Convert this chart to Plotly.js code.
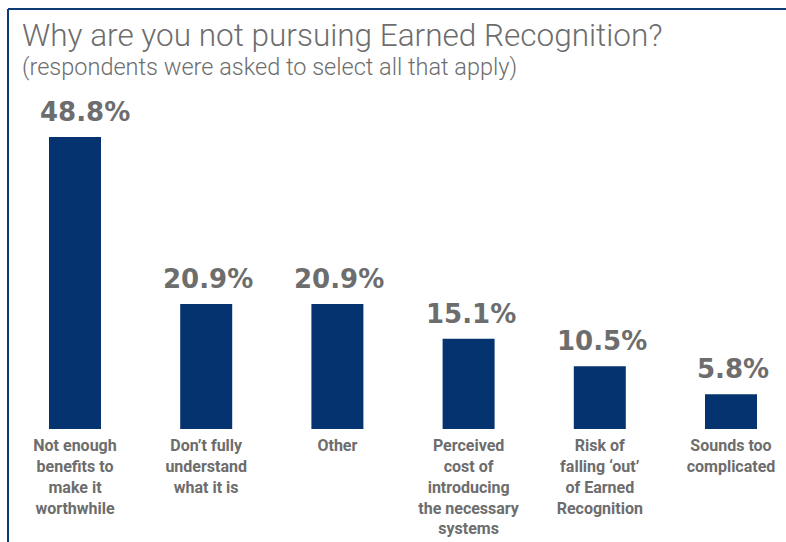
<!DOCTYPE html>
<html><head><meta charset="utf-8">
<script src="https://cdn.plot.ly/plotly-3.0.1.min.js"></script>
<style>html,body{margin:0;padding:0;background:#fff}#chart{width:786px;height:542px}</style>
</head><body><div id="chart"></div>
<script>
const categories = [
  "Not enough<br>benefits to<br>make it<br>worthwhile",
  "Don\u2019t fully<br>understand<br>what it is",
  "Other",
  "Perceived<br>cost of<br>introducing<br>the necessary<br>systems",
  "Risk of<br>falling \u2018out\u2019<br>of Earned<br>Recognition",
  "Sounds too<br>complicated"
];
const values = [48.8, 20.9, 20.9, 15.1, 10.5, 5.8];
const valueLabels = ["48.8%", "20.9%", "20.9%", "15.1%", "10.5%", "5.8%"];
const titleText = "Why are you not pursuing Earned Recognition?";
const subtitleText = "(respondents were asked to select all that apply)";

const W = 786, H = 542, mT = 100, mB = 113;
const plotH = H - mT - mB;
const step = 131.2, firstC = 75;
const xs = categories.map((c, i) => i);
const grey = "#6d6d6d", navy = "#04336f";

const annotations = values.map((v, i) => ({
  x: i, y: v, xref: "x", yref: "y", text: valueLabels[i], showarrow: false,
  yanchor: "bottom", yshift: 8, xshift: i === 0 ? 10 : 2,
  font: {family: "DejaVu Sans, sans-serif", size: 26, color: grey, weight: 700}
}));
annotations.push({
  xref: "paper", yref: "paper", x: 20 / W, y: (H - mB - 15) / plotH, xanchor: "left", yanchor: "top",
  text: titleText, showarrow: false,
  font: {family: "Roboto, sans-serif", size: 31.5, color: grey, weight: 300}
});
annotations.push({
  xref: "paper", yref: "paper", x: 20 / W, y: (H - mB - 51) / plotH, xanchor: "left", yanchor: "top",
  text: subtitleText, showarrow: false,
  font: {family: "Roboto, sans-serif", size: 23.5, color: grey, weight: 300}
});

const shapes = [
  {type: "line", xref: "paper", yref: "paper", x0: 8 / W, x1: 8 / W, y0: (H - mB - 9) / plotH, y1: (H - mB - H - 5) / plotH, line: {color: "#0d3b76", width: 2}},
  {type: "line", xref: "paper", yref: "paper", x0: 8 / W, x1: 1.05, y0: (H - mB - 9) / plotH, y1: (H - mB - 9) / plotH, line: {color: "#0d3b76", width: 2}}
];

Plotly.newPlot("chart", [{
  type: "bar", x: xs, y: values, width: 52 / step,
  marker: {color: navy}, hoverinfo: "skip", cliponaxis: false
}], {
  width: W, height: H,
  margin: {l: 0, r: 0, t: mT, b: mB, pad: 0},
  paper_bgcolor: "#fff", plot_bgcolor: "#fff",
  showlegend: false,
  xaxis: {range: [-firstC / step, (W - firstC) / step], tickvals: xs, ticktext: categories,
    showgrid: false, zeroline: false, showline: false, ticks: "outside", ticklen: 2, tickcolor: "rgba(0,0,0,0)",
    tickfont: {family: "Roboto, sans-serif", size: 16, color: grey, weight: 700}, fixedrange: true},
  yaxis: {range: [0, 55], visible: false, fixedrange: true},
  annotations: annotations, shapes: shapes
}, {displayModeBar: false, staticPlot: true});
</script></body></html>
